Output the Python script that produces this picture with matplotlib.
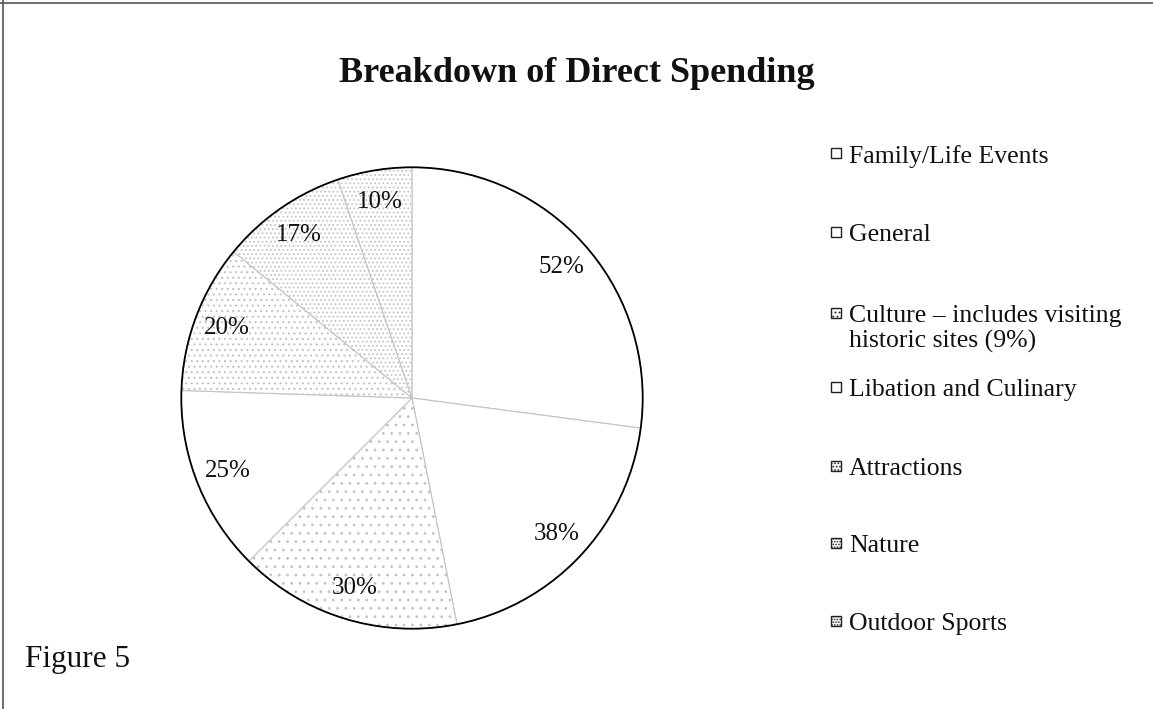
import matplotlib
matplotlib.use("Agg")
import matplotlib.pyplot as plt
from matplotlib.patches import Rectangle, Circle
from matplotlib.lines import Line2D

plt.rcParams['font.family'] = ['Liberation Serif', 'DejaVu Serif']
plt.rcParams['hatch.linewidth'] = 0.8

categories = ["Family/Life Events", "General",
              "Culture \u2013 includes visiting\nhistoric sites (9%)",
              "Libation and Culinary", "Attractions", "Nature", "Outdoor Sports"]
values = [52, 38, 30, 25, 20, 17, 10]
hatches = [None, None, "..", None, "...", "....", "...."]
title = "Breakdown of Direct Spending"
caption = "Figure 5"

W, H = 1153, 709
fig = plt.figure(figsize=(W / 100, H / 100), dpi=100)

# pie axes: centre ~(412, 398) px, radius ~233 px
cx, cy, r = 412, 398, 233
ax = fig.add_axes([(cx - r) / W, (H - cy - r) / H, 2 * r / W, 2 * r / H])
total = sum(values)
wedges, texts, autotexts = ax.pie(
    values, startangle=90, counterclock=False, radius=1.0,
    colors=["white"] * len(values),
    autopct=lambda p: f"{p * total / 100:.0f}%", pctdistance=0.86,
    wedgeprops=dict(edgecolor="#c4c4c4", linewidth=0.8),
    textprops=dict(fontsize=18, color="#111111"))
for w, h in zip(wedges, hatches):
    if h:
        w.set_hatch(h)
ax.add_patch(Circle((0, 0), 1.0, fill=False, edgecolor="black", linewidth=1.3, zorder=5))
ax.set_xlim(-1.01, 1.01)
ax.set_ylim(-1.01, 1.01)
ax.axis("off")

fig.text(577 / W, 1 - 73 / H, title, ha="center", va="center",
         fontsize=26, fontweight="bold", color="#111111")
fig.text(25 / W, 1 - 660 / H, caption, ha="left", va="center",
         fontsize=22.5, color="#111111")

# legend (manual layout, Excel-style)
leg_y = [153, 232, 313, 387, 466, 543, 621]
for lab, h, yy in zip(categories, hatches, leg_y):
    s = 10
    fig.patches.append(Rectangle(((836 - s / 2) / W, 1 - (yy + s / 2) / H), s / W, s / H,
                                 transform=fig.transFigure, facecolor="white",
                                 edgecolor="#222222", linewidth=1.0,
                                 hatch=(h + "..") if h else None))
    fig.text(849 / W, 1 - (yy - 8) / H, lab, ha="left", va="top",
             fontsize=18.5, color="#111111", linespacing=1.15)

# scan frame lines (top and left)
fig.add_artist(Line2D([0, 1], [1 - 3 / H, 1 - 3 / H], transform=fig.transFigure,
                      color="#555555", linewidth=1.2))
fig.add_artist(Line2D([3 / W, 3 / W], [0, 1], transform=fig.transFigure,
                      color="#555555", linewidth=1.2))

fig.savefig("out.png", dpi=100, facecolor="white")
